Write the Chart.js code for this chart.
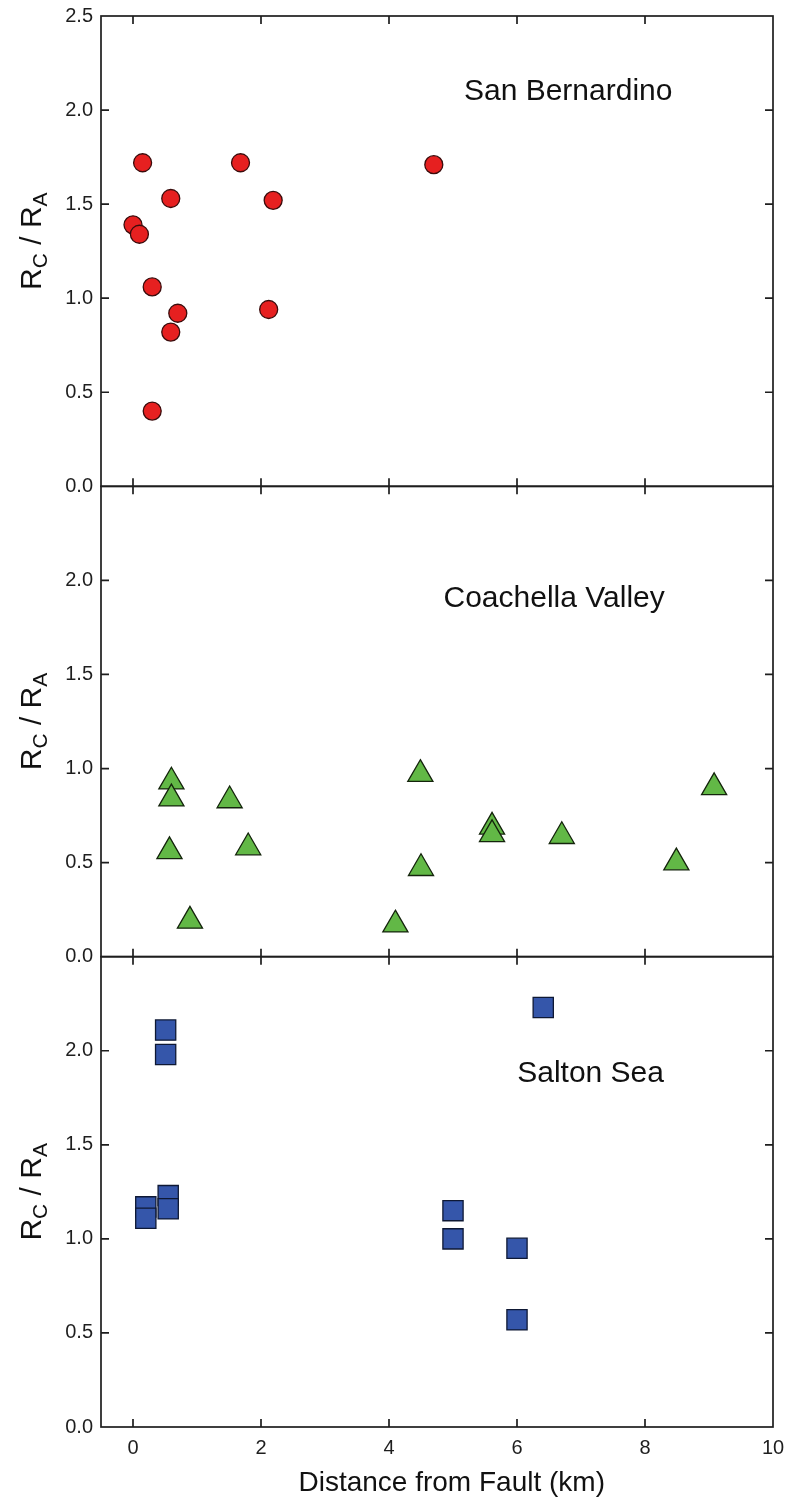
<!DOCTYPE html>
<html>
<head>
<meta charset="utf-8">
<script src="https://cdn.jsdelivr.net/npm/chart.js@4.4.1/dist/chart.umd.min.js"></script>
<style>
  html, body { margin: 0; padding: 0; background: #fff; }
  #wrap { width: 786px; height: 1502px; }
</style>
</head>
<body>
<div id="wrap"><canvas id="rcra" width="786" height="1502"></canvas></div>
<script>
// San Bernardino
const sbDistance = [0.15, 1.68, 4.70, 0.59, 2.19, 0.00, 0.10, 0.30, 0.70, 0.59, 2.12, 0.30];
const sbRatio    = [1.72, 1.72, 1.71, 1.53, 1.52, 1.39, 1.34, 1.06, 0.92, 0.82, 0.94, 0.40];

// Coachella Valley
const cvDistance = [0.60, 0.60, 0.57, 0.89, 1.51, 1.80, 4.10, 4.49, 4.50, 5.61, 5.61, 6.70, 8.49, 9.08];
const cvRatio    = [0.93, 0.84, 0.56, 0.19, 0.83, 0.58, 0.17, 0.97, 0.47, 0.69, 0.65, 0.64, 0.50, 0.90];

// Salton Sea
const ssDistance = [0.51, 0.51, 6.41, 0.20, 0.20, 0.55, 0.55, 5.00, 5.00, 6.00, 6.00];
const ssRatio    = [2.11, 1.98, 2.23, 1.17, 1.11, 1.23, 1.16, 1.15, 1.00, 0.95, 0.57];

const xTickValues = [0, 2, 4, 6, 8, 10];
const yTickValues = [0, 0.5, 1.0, 1.5, 2.0, 2.5];

const panelNames = ['San Bernardino', 'Coachella Valley', 'Salton Sea'];
const panelAxes = ['yTop', 'yMid', 'yBot'];
const nameX = [6.80, 6.58, 7.15];
const nameY = [2.10, 1.90, 1.88];

const xTitle = 'Distance from Fault (km)';
const xTitleAt = 4.98;

const FONT = "'Liberation Sans', Arial, sans-serif";
const INK = '#1e1e1e';

const toPoints = (xs, ys) => xs.map((x, i) => ({ x: x, y: ys[i] }));

// frame, inward ticks and site name for each stacked panel
const panelFrame = {
  id: 'panelFrame',
  beforeDatasetsDraw(chart) {
    const ctx = chart.ctx;
    const x = chart.scales.x;
    ctx.save();
    ctx.strokeStyle = INK;
    ctx.lineWidth = 1.7;
    panelAxes.forEach((id, i) => {
      const y = chart.scales[id];
      ctx.strokeRect(x.left, y.top, x.right - x.left, y.bottom - y.top);
      ctx.beginPath();
      x.ticks.forEach(t => {
        const px = x.getPixelForValue(t.value);
        if (px <= x.left + 1 || px >= x.right - 1) return;
        ctx.moveTo(px, y.top); ctx.lineTo(px, y.top + 8);
        ctx.moveTo(px, y.bottom); ctx.lineTo(px, y.bottom - 8);
      });
      y.ticks.forEach(t => {
        const py = y.getPixelForValue(t.value);
        if (py <= y.top + 1 || py >= y.bottom - 1) return;
        ctx.moveTo(x.left, py); ctx.lineTo(x.left + 8, py);
        ctx.moveTo(x.right, py); ctx.lineTo(x.right - 8, py);
      });
      ctx.stroke();

      ctx.fillStyle = '#111';
      ctx.font = '30px ' + FONT;
      ctx.textAlign = 'center';
      ctx.textBaseline = 'middle';
      ctx.fillText(panelNames[i], x.getPixelForValue(nameX[i]), y.getPixelForValue(nameY[i]));
    });

    // shared x title under the bottom panel
    ctx.font = '28px ' + FONT;
    ctx.textAlign = 'center';
    ctx.textBaseline = 'alphabetic';
    ctx.fillText(xTitle, x.getPixelForValue(xTitleAt), x.bottom - 11);
    ctx.restore();
  }
};

// rotated "RC / RA" title with subscripts beside each panel
const ratioTitle = {
  id: 'ratioTitle',
  afterDraw(chart) {
    const ctx = chart.ctx;
    ctx.save();
    ctx.fillStyle = '#111';
    ctx.textBaseline = 'alphabetic';
    ctx.textAlign = 'left';
    const big = '30px ' + FONT;
    const small = '21px ' + FONT;
    const parts = [['R', big, 0], ['C', small, 6], [' / R', big, 0], ['A', small, 6]];
    panelAxes.forEach((id, i) => {
      const y = chart.scales[id];
      let total = 0;
      parts.forEach(p => { ctx.font = p[1]; total += ctx.measureText(p[0]).width; });
      const mid = (y.top + y.bottom) / 2 + (i === 0 ? -10 : 0);
      ctx.save();
      ctx.translate(41, mid + total / 2);
      ctx.rotate(-Math.PI / 2);
      let cx = 0;
      parts.forEach(p => {
        ctx.font = p[1];
        ctx.fillText(p[0], cx, p[2]);
        cx += ctx.measureText(p[0]).width;
      });
      ctx.restore();
    });
    ctx.restore();
  }
};

function yAxis(weight, showTop) {
  return {
    type: 'linear',
    position: 'left',
    stack: 'panels',
    stackWeight: 1,
    weight: weight,
    min: 0,
    max: 2.5,
    afterBuildTicks: s => { s.ticks = yTickValues.map(v => ({ value: v })); },
    afterFit: s => { s.width = 101; s.paddingTop = 0; s.paddingBottom = 0; },
    grid: { display: false, drawTicks: false },
    border: { display: false },
    ticks: {
      padding: 8,
      color: INK,
      font: { family: FONT, size: 20 },
      callback: v => (!showTop && v === 2.5) ? '' : v.toFixed(1)
    }
  };
}

new Chart(document.getElementById('rcra'), {
  type: 'scatter',
  data: {
    datasets: [
      {
        label: 'San Bernardino',
        data: toPoints(sbDistance, sbRatio),
        yAxisID: 'yTop',
        pointStyle: 'circle',
        pointRadius: 9,
        backgroundColor: '#e62020',
        borderColor: '#3a0c0c',
        borderWidth: 1.3
      },
      {
        label: 'Coachella Valley',
        data: toPoints(cvDistance, cvRatio),
        yAxisID: 'yMid',
        pointStyle: 'triangle',
        pointRadius: 14.5,
        backgroundColor: '#62b846',
        borderColor: '#14240c',
        borderWidth: 1.3
      },
      {
        label: 'Salton Sea',
        data: toPoints(ssDistance, ssRatio),
        yAxisID: 'yBot',
        pointStyle: 'rect',
        pointRadius: 14.3,
        backgroundColor: '#3556aa',
        borderColor: '#0e1834',
        borderWidth: 1.3
      }
    ]
  },
  options: {
    responsive: false,
    animation: false,
    events: [],
    layout: { autoPadding: false, padding: { left: 0, right: 13, top: 16, bottom: 0 } },
    plugins: {
      legend: { display: false },
      tooltip: { enabled: false }
    },
    scales: {
      x: {
        type: 'linear',
        min: -0.5,
        max: 10,
        afterBuildTicks: s => { s.ticks = xTickValues.map(v => ({ value: v })); },
        afterFit: s => { s.height = 75; s.paddingLeft = 0; s.paddingRight = 0; },
        grid: { display: false, drawTicks: false },
        border: { display: false },
        ticks: {
          padding: 9,
          color: INK,
          font: { family: FONT, size: 20 },
          maxRotation: 0,
          callback: v => String(v)
        },
        title: { display: false }
      },
      yTop: yAxis(2, true),
      yMid: yAxis(1, false),
      yBot: yAxis(0, false)
    }
  },
  plugins: [panelFrame, ratioTitle]
});
</script>
</body>
</html>
